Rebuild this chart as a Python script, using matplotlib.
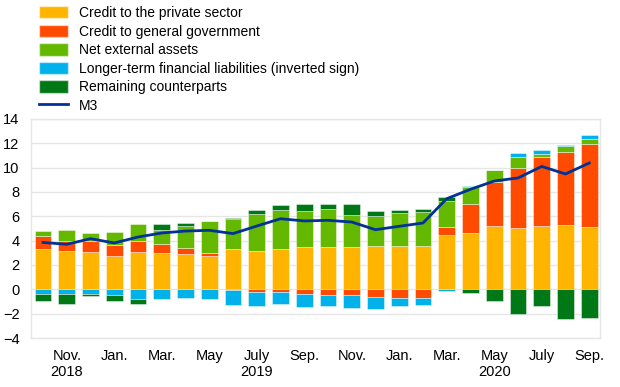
import numpy as np
import matplotlib
matplotlib.use('Agg')
import matplotlib.pyplot as plt
from matplotlib.patches import Patch
from matplotlib.lines import Line2D

plt.rcParams['font.family'] = ['Liberation Sans', 'DejaVu Sans']

# Monthly data, Oct 2018 - Sep 2020 (annual growth contributions, percentage points)
months = [
    '2018-10', '2018-11', '2018-12', '2019-01', '2019-02', '2019-03',
    '2019-04', '2019-05', '2019-06', '2019-07', '2019-08', '2019-09',
    '2019-10', '2019-11', '2019-12', '2020-01', '2020-02', '2020-03',
    '2020-04', '2020-05', '2020-06', '2020-07', '2020-08', '2020-09',
]
private_sector = [3.34, 3.15, 3.07, 2.77, 3.04, 3.01, 2.90, 2.74, 3.29, 3.15, 3.32, 3.45,
                  3.45, 3.45, 3.56, 3.56, 3.56, 4.49, 4.66, 5.18, 5.01, 5.23, 5.29, 5.15]
general_govt = [1.02, 0.82, 0.90, 0.90, 0.93, 0.72, 0.52, 0.25, -0.05, -0.20, -0.20, -0.40,
                -0.49, -0.49, -0.66, -0.70, -0.70, 0.60, 2.33, 3.64, 4.96, 5.62, 6.00, 6.80]
net_external = [0.43, 0.88, 0.69, 1.07, 1.43, 1.17, 1.76, 2.63, 2.49, 3.01, 3.17, 2.96,
                3.18, 2.69, 2.49, 2.69, 2.80, 2.14, 1.42, 1.02, 0.91, 0.30, 0.49, 0.38]
longer_term = [-0.35, -0.36, -0.41, -0.49, -0.82, -0.82, -0.68, -0.82, -1.25, -1.17, -1.03, -1.05,
               -0.90, -1.04, -0.96, -0.70, -0.56, -0.16, 0.06, 0.00, 0.33, 0.30, 0.08, 0.38]
remaining = [-0.63, -0.82, -0.14, -0.47, -0.36, 0.50, 0.27, 0.00, 0.11, 0.36, 0.47, 0.63,
             0.41, 0.90, 0.39, 0.30, 0.27, 0.36, -0.30, -0.95, -2.00, -1.40, -2.41, -2.33]
m3 = [3.85, 3.70, 4.16, 3.81, 4.30, 4.63, 4.79, 4.85, 4.58, 5.20, 5.80, 5.62,
      5.67, 5.53, 4.90, 5.18, 5.45, 7.45, 8.22, 8.90, 9.15, 10.10, 9.48, 10.38]

labels = ['Credit to the private sector', 'Credit to general government',
          'Net external assets', 'Longer-term financial liabilities (inverted sign)',
          'Remaining counterparts']
colors = ['#FFB400', '#FF4B00', '#65B800', '#00B1EA', '#007816']
series = [private_sector, general_govt, net_external, longer_term, remaining]

tick_labels = ['Nov.\n2018', 'Jan.', 'Mar.', 'May', 'July\n2019', 'Sep.',
               'Nov.', 'Jan.', 'Mar.', 'May\n2020', 'July', 'Sep.']

fig = plt.figure(figsize=(6.2, 3.87), dpi=100)
ax = fig.add_axes([0.0495, 0.1266, 0.9185, 0.566])

x = np.arange(len(months))
pos_bottom = np.zeros(len(x))
neg_bottom = np.zeros(len(x))
for vals, c in zip(series, colors):
    v = np.array(vals)
    bottom = np.where(v >= 0, pos_bottom, neg_bottom)
    ax.bar(x, v, width=0.7, bottom=bottom, color=c,
           edgecolor=(1, 1, 1, 0.5), linewidth=0.6, zorder=2)
    pos_bottom += np.where(v >= 0, v, 0)
    neg_bottom += np.where(v < 0, v, 0)

ax.plot(x, m3, color='#003299', linewidth=2, zorder=3)

ax.set_ylim(-4, 14)
ax.set_yticks(np.arange(-4, 15, 2))
ax.set_xlim(-0.52, len(x) - 0.54)
ax.set_xticks(x[1::2])
ax.set_xticklabels(tick_labels)
ax.tick_params(axis='both', length=0, labelsize=10.5)
ax.tick_params(axis='x', pad=8)
ax.tick_params(axis='y', pad=8)
ax.grid(axis='y', color='#e6e6e6', linewidth=1, zorder=0)
ax.set_axisbelow(True)
for s in ax.spines.values():
    s.set_color('#e6e6e6')
    s.set_linewidth(1)

handles = [Patch(facecolor=c, edgecolor=(1, 1, 1, 0.5)) for c in colors]
handles.append(Line2D([0], [0], color='#003299', linewidth=2))
fig.legend(handles, labels + ['M3'], loc='upper left', bbox_to_anchor=(0.054, 0.999),
           frameon=False, fontsize=10, handlelength=2.1, handleheight=1.0,
           labelspacing=0.33, handletextpad=0.75, borderaxespad=0)

fig.savefig('out.png', dpi=100)
